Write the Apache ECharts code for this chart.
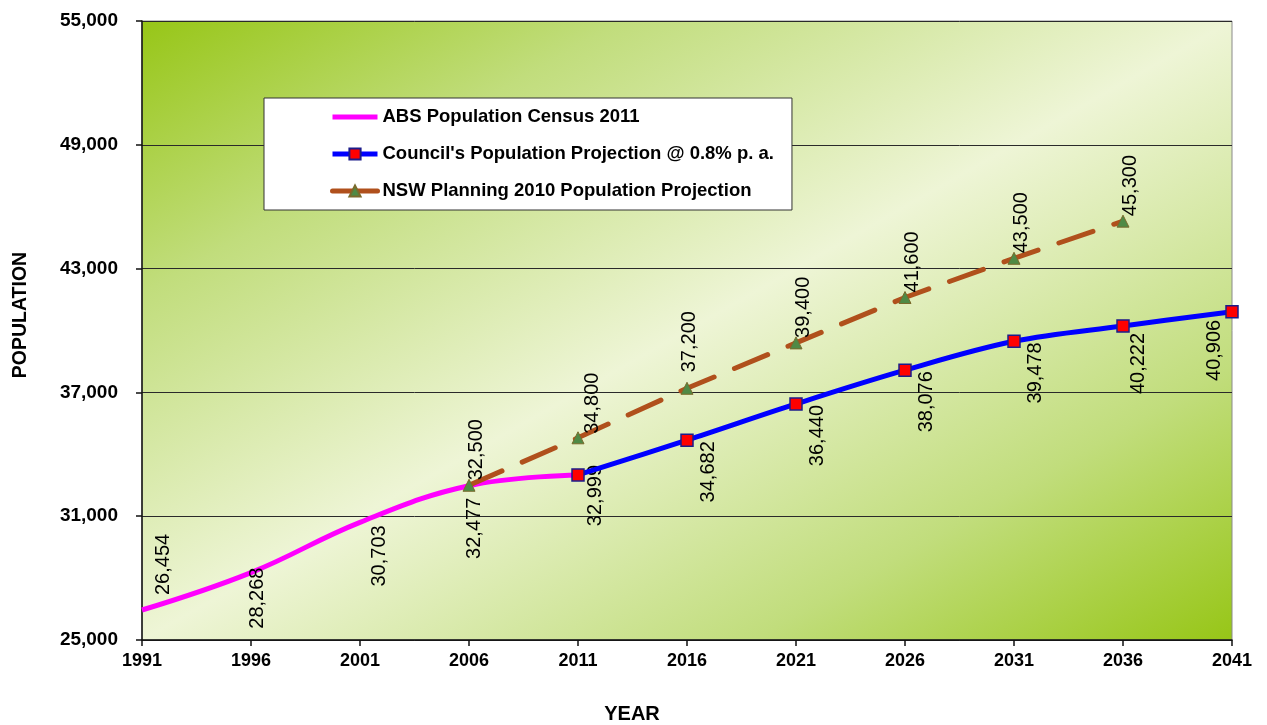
<!DOCTYPE html>
<html>
<head>
<meta charset="utf-8">
<title>Population projections</title>
<script src="https://cdn.jsdelivr.net/npm/echarts@6/dist/echarts.min.js"></script>
<style>
  html, body { margin: 0; padding: 0; background: #ffffff; }
  #chart { width: 1267px; height: 725px; }
</style>
</head>
<body>
<div id="chart"></div>
<script>
// Census years on the horizontal axis
const years = ['1991', '1996', '2001', '2006', '2011', '2016', '2021', '2026', '2031', '2036', '2041'];

// Series values (null where a series has no figure for that year)
const absCensus = [26454, 28268, 30703, 32477, 32999, null, null, null, null, null, null];
const councilProjection = [null, null, null, null, 32999, 34682, 36440, 38076, 39478, 40222, 40906];
const nswProjection = [null, null, null, 32500, 34800, 37200, 39400, 41600, 43500, 45300, null];

// Population axis ticks
const populationTicks = [25000, 31000, 37000, 43000, 49000, 55000];

const seriesNames = [
  'ABS Population Census 2011',
  "Council's Population Projection @ 0.8% p. a.",
  'NSW Planning 2010 Population Projection'
];

const FONT = '"Liberation Sans", Arial, Helvetica, sans-serif';
const fmt = v => Number(v).toLocaleString('en-US');

// Plot rectangle
const G = { left: 142, top: 21, right: 35, bottom: 85 };
const W = 1267 - G.left - G.right;
const H = 725 - G.top - G.bottom;

// Diagonal fill: dark corners top-left / bottom-right, pale band along the other diagonal
const cx = G.left + W / 2, cy = G.top + H / 2;
const k = (W * H) / (W * W + H * H);
const plotFill = new echarts.graphic.LinearGradient(
  cx - H * k, cy - W * k, cx + H * k, cy + W * k,
  [
    { offset: 0.0, color: '#97c617' },
    { offset: 0.22, color: '#c1dd7c' },
    { offset: 0.5, color: '#eef5d6' },
    { offset: 0.78, color: '#c1dd7c' },
    { offset: 1.0, color: '#97c617' }
  ],
  true
);

// Vertical value labels: reading upward, rotated about the point.
// 'below' labels end just under the point, 'above' labels start just over it.
const labelBase = {
  show: true,
  rotate: 90,
  position: 'inside',
  verticalAlign: 'middle',
  fontFamily: FONT,
  fontSize: 20,
  color: '#000',
  formatter: p => fmt(p.value)
};
const below = (down, right) => Object.assign({}, labelBase, { align: 'right', offset: [-down, right] });
const above = (up, right) => Object.assign({}, labelBase, { align: 'left', offset: [up, right] });

function buildData(values, labelFor) {
  return values.map((v, i) => (v == null ? null : { value: v, label: labelFor(i) }));
}

const absData = buildData(absCensus, i => {
  if (i === 0) return above(15, 21);
  if (i === 1) return below(-5, 6);
  if (i === 2) return below(3, 19);
  if (i === 3) return below(12, 5);
  return below(-10, 17);
});
const councilData = buildData(councilProjection, i => {
  if (i === 4) return Object.assign({}, labelBase, { show: false });
  if (i === 9) return below(7, 15);
  if (i === 10) return below(8, -18);
  return below(1, 21);
});
const nswData = buildData(nswProjection, i => {
  if (i === 4) return above(4, 14);
  if (i === 5) return above(16, 2);
  return above(5, 7);
});

const chart = echarts.init(document.getElementById('chart'), null, { renderer: 'canvas' });

chart.setOption({
  backgroundColor: '#ffffff',
  animation: false,
  textStyle: { fontFamily: FONT },
  grid: {
    left: G.left, top: G.top, right: G.right, bottom: G.bottom,
    show: true,
    backgroundColor: plotFill,
    borderColor: '#8a8a8a',
    borderWidth: 1,
    containLabel: false
  },
  legend: {
    orient: 'vertical',
    left: 264,
    top: 98,
    padding: [9, 18, 9, 66],
    itemGap: 17,
    itemWidth: 45,
    itemHeight: 14,
    backgroundColor: '#ffffff',
    borderColor: '#333333',
    borderWidth: 1,
    borderRadius: 0,
    lineStyle: { width: 5 },
    textStyle: { fontFamily: FONT, fontWeight: 'bold', fontSize: 18.5, color: '#000', lineHeight: 20 },
    data: [
      { name: seriesNames[0], itemStyle: { opacity: 0 } },
      { name: seriesNames[1] },
      { name: seriesNames[2], lineStyle: { type: 'solid' } }
    ]
  },
  xAxis: {
    type: 'category',
    data: years,
    boundaryGap: false,
    axisLine: { show: true, lineStyle: { color: '#111', width: 1.5 } },
    axisTick: { show: true, inside: false, length: 6, alignWithLabel: true, lineStyle: { color: '#111', width: 1.5 } },
    axisLabel: { fontFamily: FONT, fontWeight: 'bold', fontSize: 18, color: '#000', margin: 12 },
    splitLine: { show: false }
  },
  yAxis: {
    type: 'value',
    min: populationTicks[0],
    max: populationTicks[populationTicks.length - 1],
    interval: populationTicks[1] - populationTicks[0],
    axisLine: { show: true, lineStyle: { color: '#111', width: 1.5 } },
    axisTick: { show: true, inside: false, length: 6, lineStyle: { color: '#111', width: 1.5 } },
    axisLabel: { fontFamily: FONT, fontWeight: 'bold', fontSize: 19, color: '#000', margin: 24, formatter: v => fmt(v) },
    splitLine: { show: true, lineStyle: { color: '#2a2a2a', width: 1 } }
  },
  graphic: [
    {
      type: 'text', x: 21, y: 315, rotation: Math.PI / 2,
      style: { text: 'POPULATION', align: 'center', verticalAlign: 'middle', font: 'bold 19.5px ' + FONT, fill: '#000' }
    },
    {
      type: 'text', x: 632, y: 714,
      style: { text: 'YEAR', align: 'center', verticalAlign: 'middle', font: 'bold 20px ' + FONT, fill: '#000' }
    }
  ],
  series: [
    {
      name: seriesNames[0],
      type: 'line',
      data: absData,
      smooth: 0.4,
      symbol: 'circle',
      symbolSize: 0.1,
      showAllSymbol: true,
      itemStyle: { color: '#ff00ff' },
      lineStyle: { color: '#ff00ff', width: 5 },
      z: 2
    },
    {
      name: seriesNames[1],
      type: 'line',
      data: councilData,
      smooth: 0.35,
      symbol: 'rect',
      symbolSize: 12,
      showAllSymbol: true,
      itemStyle: { color: '#ff0000', borderColor: '#1c1c8a', borderWidth: 1.5 },
      lineStyle: { color: '#0000ff', width: 5 },
      z: 3
    },
    {
      name: seriesNames[2],
      type: 'line',
      data: nswData,
      smooth: false,
      symbol: 'triangle',
      symbolSize: 12,
      showAllSymbol: true,
      itemStyle: { color: '#4f8a45', borderColor: '#7a6b2c', borderWidth: 1 },
      lineStyle: { color: '#b0501c', width: 5, type: [36, 22], cap: 'round' },
      z: 4
    }
  ]
});
</script>
</body>
</html>
